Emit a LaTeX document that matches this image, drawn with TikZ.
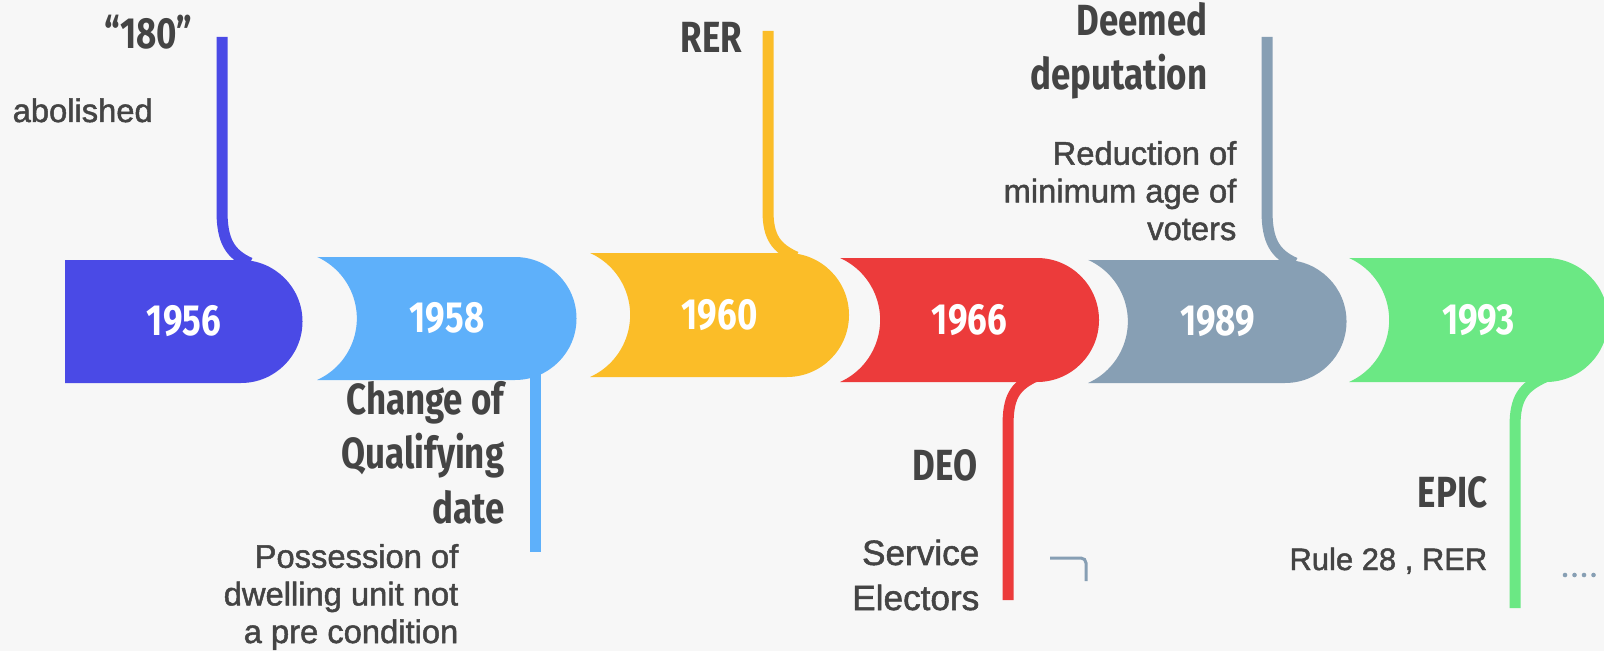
\documentclass[tikz,border=0pt]{standalone}
\usepackage{fontspec}
\usepackage{tikz}
\usepackage{xcolor}
\setmainfont[FakeBold=1.5]{Liberation Sans}
\newfontfamily\headfont[FakeStretch=0.8]{Fira Sans}
\definecolor{c1956}{RGB}{74,74,230}
\definecolor{c1958}{RGB}{94,176,250}
\definecolor{c1960}{RGB}{251,189,40}
\definecolor{c1966}{RGB}{236,59,59}
\definecolor{c1989}{RGB}{135,159,180}
\definecolor{c1993}{RGB}{107,232,132}
\definecolor{inkgray}{RGB}{68,68,68}
\colorlet{paper}{white!97!black}

\begin{document}
\begin{tikzpicture}[x=0.01cm, y=0.01cm,
    stem/.style={line width=0.11cm},
    year/.style={text=white, font=\headfont\bfseries\fontsize{12.4}{15}\selectfont},
    head/.style={inner sep=0pt, text=inkgray, align=right, font=\headfont\bfseries\fontsize{12.4}{15.4}\selectfont},
    body/.style={inner sep=0pt, text=inkgray, align=right, font=\fontsize{9.3}{10.7}\selectfont}]
            % background
            \fill[paper] (0,0) rectangle (1604,651);
            \useasboundingbox (0,0) rectangle (1604,651);
            % coordinates
            \coordinate (s1956-top) at (222,614);
            \coordinate (s1956-bend) at (222,440);
            \coordinate (s1956-join) at (250,388);
            \coordinate (s1958-join) at (535.5,280);
            \coordinate (s1958-end) at (535.5,99);
            \coordinate (s1960-top) at (768,620);
            \coordinate (s1960-bend) at (768,440);
            \coordinate (s1960-join) at (796,394);
            \coordinate (s1966-end) at (1008,51);
            \coordinate (s1966-bend) at (1008,225);
            \coordinate (s1966-join) at (1034,274);
            \coordinate (s1989-top) at (1267,614);
            \coordinate (s1989-bend) at (1267,440);
            \coordinate (s1989-join) at (1295,388);
            \coordinate (s1993-end) at (1515,43);
            \coordinate (s1993-bend) at (1515,225);
            \coordinate (s1993-join) at (1545,274);
            % 1956
            \fill[c1956] (65,391) -- (241,391) arc[start angle=90, end angle=-90, radius=61.5] -- (65,268) -- cycle;
            \draw[c1956, stem] (s1956-top) -- (s1956-bend) .. controls (222,410) and (230,397) .. (s1956-join);
            \node[year] (y1956) at (184,329.5) {1956};
            % 1958
            \fill[c1958] (317,394) -- (515,394) arc[start angle=90, end angle=-90, radius=61.5] -- (317,271) arc[start angle=-65.8, end angle=65.8, radius=67.5] -- cycle;
            \draw[c1958, stem] (s1958-join) -- (s1958-end);
            \node[year] (y1958) at (447,332.5) {1958};
            % 1960
            \fill[c1960] (590,398) -- (787,398) arc[start angle=90, end angle=-90, radius=62] -- (590,274) arc[start angle=-65.8, end angle=65.8, radius=68] -- cycle;
            \draw[c1960, stem] (s1960-top) -- (s1960-bend) .. controls (768,414) and (776,403) .. (s1960-join);
            \node[year] (y1960) at (719.5,336) {1960};
            % 1966
            \fill[c1966] (840,393) -- (1037,393) arc[start angle=90, end angle=-90, radius=62] -- (840,269) arc[start angle=-65.8, end angle=65.8, radius=68] -- cycle;
            \draw[c1966, stem] (s1966-end) -- (s1966-bend) .. controls (1008,253) and (1014,264) .. (s1966-join);
            \node[year] (y1966) at (969.5,331) {1966};
            % 1989
            \fill[c1989] (1088,391) -- (1285,391) arc[start angle=90, end angle=-90, radius=61.5] -- (1088,268) arc[start angle=-65.8, end angle=65.8, radius=67.5] -- cycle;
            \draw[c1989, stem] (s1989-top) -- (s1989-bend) .. controls (1267,410) and (1275,397) .. (s1989-join);
            \node[year] (y1989) at (1217.5,329.5) {1989};
            % 1993
            \fill[c1993] (1349,393) -- (1546,393) arc[start angle=90, end angle=-90, radius=62] -- (1349,269) arc[start angle=-65.8, end angle=65.8, radius=68] -- cycle;
            \draw[c1993, stem] (s1993-end) -- (s1993-bend) .. controls (1515,253) and (1523,264) .. (s1993-join);
            \node[year] (y1993) at (1478.5,331) {1993};
            % labels above (base = last line)
            \node[head, anchor=base east] (h1956) at (193,602) {“180”};
            \node[body, anchor=base west] (t1956) at (12,529) {abolished};
            \node[head, anchor=base east] (h1960) at (743,598) {RER};
            \node[head, anchor=base east] (h1989) at (1208,561) {Deemed\\deputation};
            \node[body, anchor=base east] (t1989) at (1237,411) {Reduction of\\minimum age of\\voters};
            % labels below (base = last line)
            \node[head, anchor=base east] (h1958) at (505,128) {Change of\\Qualifying\\date};
            \node[body, anchor=base east] (t1958) at (459,8) {Possession of\\dwelling unit not\\a pre condition};
            \node[head, anchor=base east] (h1966) at (978,171) {DEO};
            \node[body, anchor=base east, font=\fontsize{10}{12.8}\selectfont] (t1966) at (980,41) {Service\\Electors};
            \node[head, anchor=base east] (h1993) at (1488,144) {EPIC};
            \node[body, anchor=base east, font=\fontsize{8.8}{10.7}\selectfont] (t1993) at (1488,81) {Rule 28 , RER};
            % marks
            \draw[c1989, line width=0.03cm, rounded corners=0.05cm] (1050,93) -- (1086,93) -- (1086,70);
            \foreach \dx in {0,9.5,19,28.5}
                \fill[c1989] (1565+\dx,76) circle (2.3);
        \end{tikzpicture}
\end{document}
